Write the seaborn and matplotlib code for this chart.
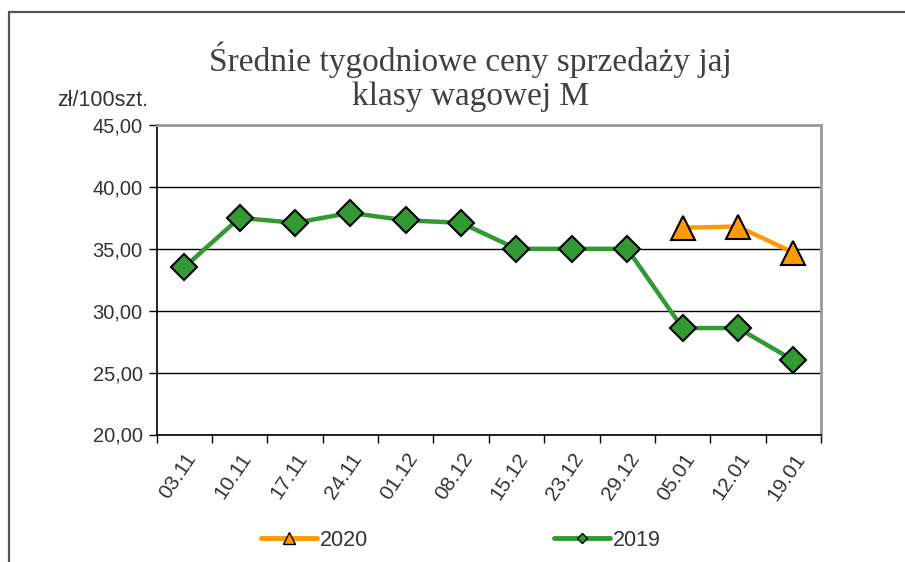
import matplotlib
matplotlib.use('Agg')
import matplotlib.pyplot as plt
from matplotlib.lines import Line2D
from matplotlib.patches import Rectangle
import numpy as np
import pandas as pd
import seaborn as sns

# Weekly average selling prices of class M eggs (zł / 100 pcs)
weeks = ['03.11', '10.11', '17.11', '24.11', '01.12', '08.12',
         '15.12', '23.12', '29.12', '05.01', '12.01', '19.01']
prices_2019 = [33.5, 37.5, 37.1, 37.9, 37.3, 37.1,
               35.0, 35.0, 35.0, 28.6, 28.6, 26.0]
weeks_2020 = ['05.01', '12.01', '19.01']
prices_2020 = [36.7, 36.8, 34.7]

green = '#339933'
orange = '#FF9900'
text_color = '#333333'

sns.set_style('white')
plt.rcParams['font.family'] = ['Liberation Sans', 'DejaVu Sans']

# category position of each week on the x axis
pos = {w: i for i, w in enumerate(weeks)}
df19 = pd.DataFrame({'x': [pos[w] for w in weeks], 'cena': prices_2019})
df20 = pd.DataFrame({'x': [pos[w] for w in weeks_2020], 'cena': prices_2020})

fig = plt.figure(figsize=(9.05, 5.62), dpi=100)
ax = fig.add_axes([156.5 / 905, 1 - 434.5 / 562, (821 - 156.5) / 905, (434.5 - 125) / 562])

sns.lineplot(data=df19, x='x', y='cena', ax=ax, color=green, linewidth=3.2,
             marker='D', markersize=13.5, markerfacecolor=green,
             markeredgecolor='black', markeredgewidth=1.5, zorder=4)
sns.lineplot(data=df20, x='x', y='cena', ax=ax, color=orange, linewidth=3.2,
             marker='^', markersize=17.5, markerfacecolor=orange,
             markeredgecolor='black', markeredgewidth=1.5, zorder=4)

# x axis: ticks between the categories, labels under the categories
ax.set_xlim(-0.5, len(weeks) - 0.5)
ax.set_xticks(np.arange(-0.5, len(weeks), 1))
ax.set_xticklabels([])
ax.set_xticks(range(len(weeks)), minor=True)
ax.set_xticklabels(weeks, minor=True, rotation=56, ha='right',
                   rotation_mode='anchor', fontsize=15, color=text_color)
ax.tick_params(axis='x', which='major', direction='out', length=6,
               width=1, color='black', bottom=True)
ax.tick_params(axis='x', which='minor', length=0, pad=11)

# y axis
ax.set_ylim(20, 45)
yticks = np.arange(20, 46, 5)
ax.set_yticks(yticks)
ax.set_yticklabels([f'{v:.2f}'.replace('.', ',') for v in yticks],
                   fontsize=14.5, color=text_color)
ax.tick_params(axis='y', direction='out', length=6, width=1,
               color='black', left=True, pad=4)
ax.yaxis.grid(True, color='black', linewidth=1)
ax.set_xlabel('')
ax.set_ylabel('')

for side in ['left', 'bottom']:
    ax.spines[side].set_color('black')
    ax.spines[side].set_linewidth(1.2)
for side in ['top', 'right']:
    ax.spines[side].set_color('#999999')
    ax.spines[side].set_linewidth(2)

# titles
fig.text(0.52, 1 - 77 / 562, 'Średnie tygodniowe ceny sprzedaży jaj\nklasy wagowej M',
         ha='center', va='center', family=['Liberation Serif', 'DejaVu Serif'],
         fontsize=24, color='#404040', linespacing=1.15)
fig.text(148 / 905, 1 - 101 / 562, 'zł/100szt.', ha='right', va='center',
         fontsize=15.5, color=text_color)

# legend
handles = [
    Line2D([], [], color=orange, linewidth=3.5, marker='^', markersize=8,
           markerfacecolor=orange, markeredgecolor='black', markeredgewidth=1),
    Line2D([], [], color=green, linewidth=3.5, marker='D', markersize=5.5,
           markerfacecolor=green, markeredgecolor='black', markeredgewidth=1),
]
fig.legend(handles, ['2020', '2019'], loc='center', ncol=2,
           bbox_to_anchor=(461 / 905, 1 - 540 / 562), frameon=False,
           fontsize=15.5, handlelength=2.6, handletextpad=0.15,
           columnspacing=8.6, labelcolor=text_color)

# outer chart frame
fig.patches.append(Rectangle((8.5 / 905, -0.1), 1.2, 1 - 11.7 / 562 + 0.1,
                             transform=fig.transFigure, fill=False,
                             edgecolor='#555555', linewidth=1.6))

fig.savefig('out.png', dpi=100)
